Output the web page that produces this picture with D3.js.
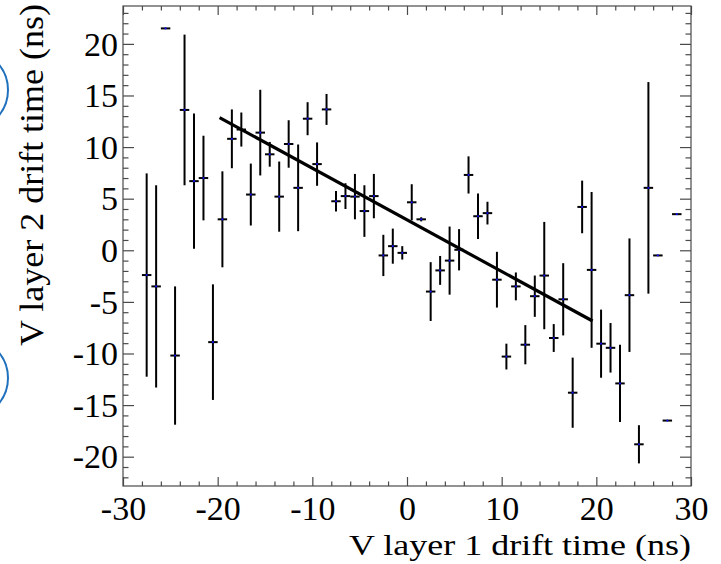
<!DOCTYPE html>
<html>
<head>
<meta charset="utf-8">
<script src="https://cdn.jsdelivr.net/npm/d3@7"></script>
<style>
  html, body { margin: 0; padding: 0; background: #fff; }
  svg { display: block; }
</style>
</head>
<body>
<svg id="chart" width="721" height="564"></svg>
<script>
// Bin centres of the layer-1 drift time (ns)
const binCenters = [-27.5, -26.5, -25.5, -24.5, -23.5, -22.5, -21.5, -20.5, -19.5, -18.5,
  -17.5, -16.5, -15.5, -14.5, -13.5, -12.5, -11.5, -10.5, -9.5, -8.5,
  -7.5, -6.5, -5.5, -4.5, -3.5, -2.5, -1.5, -0.5, 0.5, 1.5,
  2.5, 3.5, 4.5, 5.5, 6.5, 7.5, 8.5, 9.5, 10.5, 11.5,
  12.5, 13.5, 14.5, 15.5, 16.5, 17.5, 18.5, 19.5, 20.5, 21.5,
  22.5, 23.5, 24.5, 25.5, 26.5, 27.5, 28.5];

// Mean layer-2 drift time per bin (ns)
const meanLayer2 = [-2.4, -3.5, 21.5, -10.2, 13.6, 6.7, 7.0, -8.9, 3.0, 10.8,
  11.7, 5.4, 11.4, 9.3, 5.2, 10.3, 6.05, 12.75, 8.35, 13.65,
  4.75, 5.25, 5.2, 3.8, 5.25, -0.5, 0.4, -0.25, 4.65, 3.0,
  -4.0, -1.95, -1.0, 0.05, 7.3, 3.3, 3.6, -2.85, -10.3, -3.5,
  -9.15, -4.45, -2.45, -8.5, -4.75, -13.8, 4.2, -1.9, -9.05, -9.45,
  -12.9, -4.35, -18.8, 6.05, -0.5, -16.5, 3.5];

// Error on the mean per bin (ns)
const meanError = [9.85, 9.8, 0, 6.7, 7.3, 6.55, 4.1, 5.6, 4.65, 2.85,
  1.65, 3.0, 4.15, 1.2, 3.4, 2.3, 4.2, 1.6, 2.1, 1.5,
  1.0, 1.25, 2.2, 2.5, 2.15, 2.0, 1.7, 0.65, 1.75, 0.2,
  2.85, 1.4, 3.3, 2.0, 1.8, 2.2, 1.1, 2.7, 1.25, 1.35,
  1.9, 2.0, 5.2, 1.35, 3.5, 3.4, 2.55, 7.55, 3.3, 2.4,
  3.75, 5.5, 1.85, 10.25, 0, 0, 0];

const binHalfWidth = 0.5;

// Linear fit: y = intercept + slope * x over the fit range
const fitParams = [2.95, -0.5];
const fitRange = [-19.8, 19.6];

// Axis ticks
const xMajorTicks = [-30, -20, -10, 0, 10, 20, 30];
const yMajorTicks = [-20, -15, -10, -5, 0, 5, 10, 15, 20];

const xTitle = "V layer 1 drift time (ns)";
const yTitle = "V layer 2 drift time (ns)";

const svg = d3.select("#chart");
const plotLeft = 123, plotRight = 691, plotTop = 6, plotBottom = 486;

const x = d3.scaleLinear().domain([-30, 30]).range([plotLeft, plotRight]);
const y = d3.scaleLinear().domain([-22.84, 23.67]).range([plotBottom, plotTop]);

const xMinor = d3.range(-30, 30.01, 2).filter(v => !xMajorTicks.includes(v));
const yMinor = d3.range(-22, 23.01, 1).filter(v => !yMajorTicks.includes(v));

const font = "'Liberation Serif', 'Times New Roman', serif";
const frameColor = "#4a4a4a";
const tickFontSize = 34;

// Side rings
svg.append("g").selectAll("circle")
  .data([90, 378])
  .join("circle")
  .attr("cx", -32).attr("cy", d => d).attr("r", 40)
  .attr("fill", "none").attr("stroke", "#1f70bd").attr("stroke-width", 2);

function styleAxis(g) {
  g.select(".domain").remove();
  g.selectAll("line").attr("stroke", frameColor).attr("stroke-width", 1.2);
  g.selectAll("text").attr("font-family", font).attr("font-size", tickFontSize).attr("fill", "#000");
}

// Bottom axis with labels
svg.append("g").attr("transform", `translate(0,${plotBottom})`)
  .call(d3.axisBottom(x).tickValues(xMajorTicks).tickSizeInner(-9).tickSizeOuter(0)
    .tickPadding(0).tickFormat(d => String(d)))
  .call(styleAxis)
  .call(g => g.selectAll("text").attr("y", 34).attr("dy", 0));
svg.append("g").attr("transform", `translate(0,${plotBottom})`)
  .call(d3.axisBottom(x).tickValues(xMinor).tickSizeInner(-4.5).tickSizeOuter(0).tickFormat(""))
  .call(styleAxis);

// Top axis (ticks only)
svg.append("g").attr("transform", `translate(0,${plotTop})`)
  .call(d3.axisTop(x).tickValues(xMajorTicks).tickSizeInner(-9).tickSizeOuter(0).tickFormat(""))
  .call(styleAxis);
svg.append("g").attr("transform", `translate(0,${plotTop})`)
  .call(d3.axisTop(x).tickValues(xMinor).tickSizeInner(-4.5).tickSizeOuter(0).tickFormat(""))
  .call(styleAxis);

// Left axis with labels
svg.append("g").attr("transform", `translate(${plotLeft},0)`)
  .call(d3.axisLeft(y).tickValues(yMajorTicks).tickSizeInner(-11).tickSizeOuter(0)
    .tickPadding(0).tickFormat(d => String(d)))
  .call(styleAxis)
  .call(g => g.selectAll("text").attr("x", -5).attr("dy", "0.33em"));
svg.append("g").attr("transform", `translate(${plotLeft},0)`)
  .call(d3.axisLeft(y).tickValues(yMinor).tickSizeInner(-5.5).tickSizeOuter(0).tickFormat(""))
  .call(styleAxis);

// Right axis (ticks only)
svg.append("g").attr("transform", `translate(${plotRight},0)`)
  .call(d3.axisRight(y).tickValues(yMajorTicks).tickSizeInner(-11).tickSizeOuter(0).tickFormat(""))
  .call(styleAxis);
svg.append("g").attr("transform", `translate(${plotRight},0)`)
  .call(d3.axisRight(y).tickValues(yMinor).tickSizeInner(-5.5).tickSizeOuter(0).tickFormat(""))
  .call(styleAxis);

// Frame
svg.append("rect")
  .attr("x", plotLeft).attr("y", plotTop)
  .attr("width", plotRight - plotLeft).attr("height", plotBottom - plotTop)
  .attr("fill", "none").attr("stroke", frameColor).attr("stroke-width", 1.2);

// Data points with error bars
const points = binCenters.map((c, i) => ({ x: c, y: meanLayer2[i], e: meanError[i] }));
const pts = svg.append("g");
pts.selectAll("line.v")
  .data(points.filter(d => d.e > 0))
  .join("line").attr("class", "v")
  .attr("x1", d => x(d.x)).attr("x2", d => x(d.x))
  .attr("y1", d => y(d.y - d.e)).attr("y2", d => y(d.y + d.e))
  .attr("stroke", "#000").attr("stroke-width", 2);
pts.selectAll("line.h")
  .data(points)
  .join("line").attr("class", "h")
  .attr("x1", d => x(d.x - binHalfWidth)).attr("x2", d => x(d.x + binHalfWidth))
  .attr("y1", d => y(d.y)).attr("y2", d => y(d.y))
  .attr("stroke", "#000").attr("stroke-width", 2);

// Fit line
const fitLine = d3.line().x(d => x(d)).y(d => y(fitParams[0] + fitParams[1] * d));
svg.append("path")
  .attr("d", fitLine(fitRange))
  .attr("fill", "none").attr("stroke", "#000").attr("stroke-width", 3.2);

// Markers
pts.selectAll("circle")
  .data(points)
  .join("circle")
  .attr("cx", d => x(d.x)).attr("cy", d => y(d.y)).attr("r", 1.1)
  .attr("fill", "#1010ee");

// Axis titles
svg.append("text")
  .attr("x", plotRight).attr("y", 554.5)
  .attr("text-anchor", "end")
  .attr("font-family", font).attr("font-size", 30)
  .attr("textLength", 342).attr("lengthAdjust", "spacingAndGlyphs")
  .text(xTitle);

svg.append("text")
  .attr("transform", `translate(43,4) rotate(-90)`)
  .attr("text-anchor", "end")
  .attr("font-family", font).attr("font-size", 34)
  .attr("textLength", 342).attr("lengthAdjust", "spacingAndGlyphs")
  .text(yTitle);
</script>
</body>
</html>
